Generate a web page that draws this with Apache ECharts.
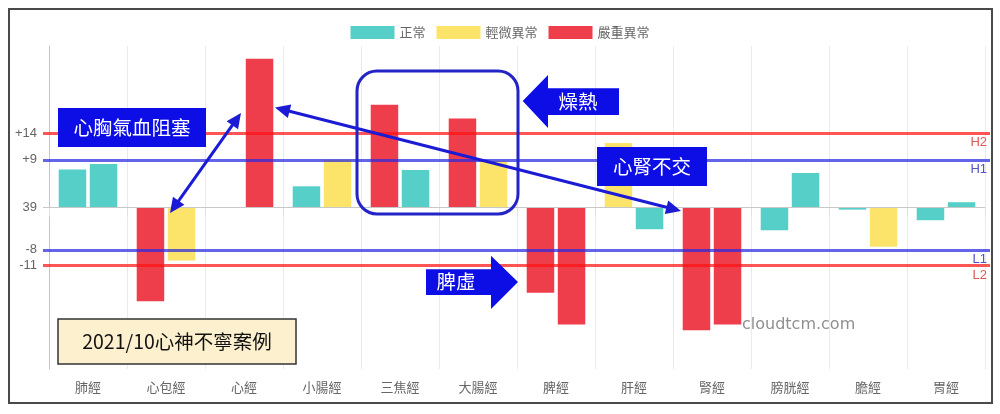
<!DOCTYPE html>
<html><head><meta charset="utf-8">
<script src="https://cdn.jsdelivr.net/npm/echarts@6/dist/echarts.min.js"></script>
<style>html,body{margin:0;padding:0;background:#fff}#c{width:1000px;height:414px}</style>
</head><body><div id="c"></div>
<script>
// ---- data ----
const categories = ['肺經','心包經','心經','小腸經','三焦經','大腸經','脾經','肝經','腎經','膀胱經','膽經','胃經'];
const statusNames = ['正常','輕微異常','嚴重異常'];
// left bar of each category (value relative to baseline) and its status index
const leftValues  = [7.2, -17.7, null, 4.0, 19.4, 16.8, -16.1, 12.2, -23.2, -4.3, -0.4, -2.4];
const leftStatus  = [0, 2, null, 0, 2, 2, 2, 1, 2, 0, 0, 0];
// right bar of each category and its status index
const rightValues = [8.2, -10.0, 28.1, 9.0, 7.1, 8.8, -22.1, -4.1, -22.1, 6.5, -7.4, 1.0];
const rightStatus = [0, 1, 2, 1, 0, 1, 2, 0, 2, 0, 1, 0];
// y tick labels
const tickValues = [14, 9, 0, -8, -11];
const tickLabels = ['+14', '+9', '39', '-8', '-11'];
// reference lines
const refNames  = ['H2', 'H1', 'L1', 'L2'];
const refValues = [14, 9, -8, -11];

// ---- styles ----
const statusColors = ['#55cfc7', '#fce46b', '#ef3e4b'];
const refColors = ['rgba(255,20,20,0.72)', 'rgba(40,40,225,0.72)', 'rgba(40,40,225,0.72)', 'rgba(255,20,20,0.72)'];
const refLabelColors = ['#e0585a', '#5252c8', '#5252c8', '#e0585a'];
const CJK = '"Noto Sans CJK TC", "Liberation Sans", sans-serif';
const LAT = '"Liberation Sans", "Noto Sans CJK TC", sans-serif';

const series = [];
statusNames.forEach((nm, s) => {
  [['L', leftValues, leftStatus], ['R', rightValues, rightStatus]].forEach(([stk, vals, st]) => {
    series.push({
      type: 'bar', name: nm, stack: stk, barWidth: 27.5, barGap: '13%',
      itemStyle: { color: statusColors[s] },
      data: vals.map((v, i) => (st[i] === s && v != null) ? v : '-')
    });
  });
});

const lineData = refValues.map((v, i) => [
  { name: refNames[i], yAxis: v, x: 43,
    lineStyle: { color: refColors[i], width: 3, type: 'solid' },
    label: { show: true, position: 'insideEndBottom', formatter: '{b}', color: refLabelColors[i],
             fontSize: 13, fontFamily: LAT, distance: 3 } },
  { yAxis: v, x: 990 }
]);
lineData.unshift([
  { name: '', yAxis: 0, x: 43, lineStyle: { color: '#c8c8c8', width: 1, type: 'solid' }, label: { show: false } },
  { yAxis: 0, x: 985 }
]);
series[0].markLine = { silent: true, symbol: 'none', animation: false, data: lineData };

function arrowHead(tip, from, len, half) {
  const dx = tip[0] - from[0], dy = tip[1] - from[1];
  const d = Math.hypot(dx, dy), ux = dx / d, uy = dy / d;
  const bx = tip[0] - ux * len, by = tip[1] - uy * len;
  return { pts: [tip, [bx - uy * half, by + ux * half], [bx + uy * half, by - ux * half]], base: [bx + ux * 2, by + uy * 2] };
}
function dblArrow(a, b, color) {
  const h1 = arrowHead(a, b, 15, 7), h2 = arrowHead(b, a, 15, 7);
  return [
    { type: 'line', z: 100, shape: { x1: h1.base[0], y1: h1.base[1], x2: h2.base[0], y2: h2.base[1] }, style: { stroke: color, lineWidth: 3 } },
    { type: 'polygon', z: 100, shape: { points: h1.pts }, style: { fill: color } },
    { type: 'polygon', z: 100, shape: { points: h2.pts }, style: { fill: color } }
  ];
}
const AB = '#1b1bd6';
const BOX = '#0d0de6';

const graphics = [
  { type: 'rect', z: 100, shape: { x: 9, y: 9, width: 983, height: 394 }, style: { fill: 'none', stroke: '#4a4a4a', lineWidth: 2 } },
  // rounded highlight box
  { type: 'rect', z: 100, shape: { x: 357, y: 71, width: 161, height: 143, r: 20 }, style: { fill: 'none', stroke: '#2323c6', lineWidth: 3 } },
  // 心胸氣血阻塞
  { type: 'rect', z: 101, shape: { x: 58, y: 108, width: 148, height: 39 }, style: { fill: BOX } },
  { type: 'text', z: 102, style: { x: 132, y: 127.5, text: '心胸氣血阻塞', fill: '#fff', font: '19.5px ' + CJK, align: 'center', verticalAlign: 'middle' } },
  // 燥熱 arrow
  { type: 'polygon', z: 101, shape: { points: [[522.7,101],[548,75],[548,88.3],[619,88.3],[619,115],[548,115],[548,128]] }, style: { fill: BOX } },
  { type: 'text', z: 102, style: { x: 578, y: 102, text: '燥熱', fill: '#fff', font: '19.5px ' + CJK, align: 'center', verticalAlign: 'middle' } },
  // 心腎不交
  { type: 'rect', z: 101, shape: { x: 597, y: 147, width: 110, height: 39 }, style: { fill: BOX } },
  { type: 'text', z: 102, style: { x: 652, y: 166.5, text: '心腎不交', fill: '#fff', font: '19.5px ' + CJK, align: 'center', verticalAlign: 'middle' } },
  // 脾虛 arrow
  { type: 'polygon', z: 101, shape: { points: [[426,269.3],[491,269.3],[491,255.7],[518,282],[491,309],[491,295],[426,295]] }, style: { fill: BOX } },
  { type: 'text', z: 102, style: { x: 456, y: 282, text: '脾虛', fill: '#fff', font: '19.5px ' + CJK, align: 'center', verticalAlign: 'middle' } },
  // case box
  { type: 'rect', z: 101, shape: { x: 58, y: 319, width: 238, height: 45 }, style: { fill: '#fdf0cf', stroke: '#333', lineWidth: 1.5 } },
  { type: 'text', z: 102, style: { x: 177, y: 341.5, text: '2021/10心神不寧案例', fill: '#111', font: '19.5px ' + CJK, align: 'center', verticalAlign: 'middle' } },
  // watermark
  { type: 'text', z: 102, style: { x: 742, y: 325, text: 'cloudtcm.com', fill: '#8f8f8f', font: '16px "DejaVu Sans", sans-serif', align: 'left', verticalAlign: 'middle' } }
].concat(dblArrow([241, 113], [170, 213], AB), dblArrow([275, 107.5], [681, 211], AB));

const chart = echarts.init(document.getElementById('c'), null, { renderer: 'canvas' });
chart.setOption({
  animation: false,
  backgroundColor: '#fff',
  textStyle: { fontFamily: CJK },
  legend: {
    top: 21, left: 'center', itemWidth: 44, itemHeight: 13, itemGap: 11, icon: 'rect',
    textStyle: { color: '#666', fontSize: 13, fontFamily: CJK }, data: statusNames
  },
  grid: { left: 49, right: 15, top: 46, bottom: 45, containLabel: false, outerBoundsMode: 'none' },
  xAxis: {
    type: 'category', data: categories, boundaryGap: true,
    axisLine: { show: true, lineStyle: { color: '#e2e2e2' } },
    axisTick: { show: true, length: 9, lineStyle: { color: '#e2e2e2' } },
    splitLine: { show: true, lineStyle: { color: '#ebebeb' } },
    axisLabel: { color: '#666', fontSize: 13, margin: 12, fontFamily: CJK }
  },
  yAxis: {
    type: 'value', min: -30.5, max: 30.5, interval: 0.5,
    splitLine: { show: false },
    axisLine: { show: true, lineStyle: { color: '#c4c4c4' } },
    axisTick: { show: false },
    axisLabel: {
      margin: 12, color: '#666', fontSize: 13, fontFamily: LAT,
      formatter: v => { const i = tickValues.findIndex(t => Math.abs(t - v) < 1e-6); return i >= 0 ? tickLabels[i] : ''; }
    }
  },
  series: series,
  graphic: { elements: graphics }
});
</script></body></html>
